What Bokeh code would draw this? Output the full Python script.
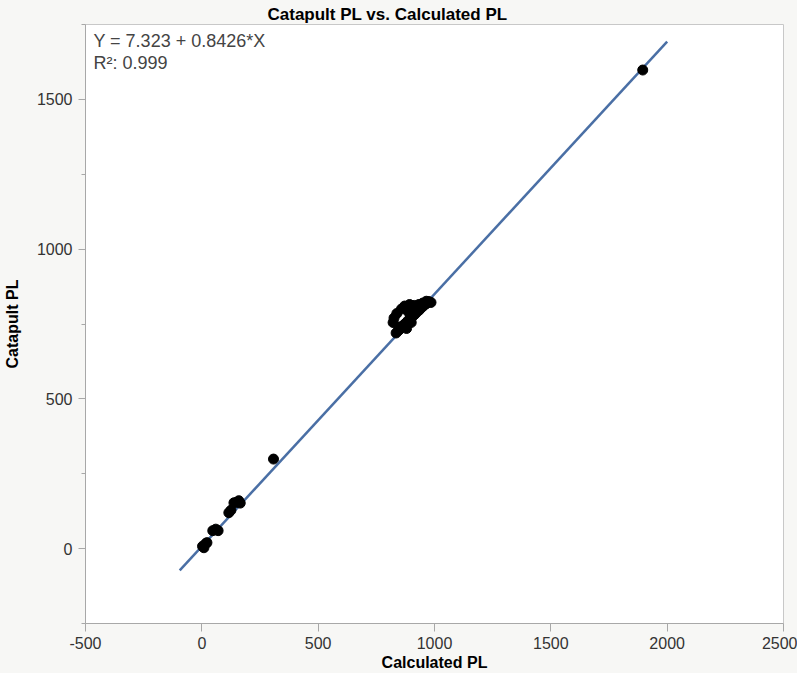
from bokeh.plotting import figure
from bokeh.models import Label, SingleIntervalTicker, Range1d, CustomJSTickFormatter
from bokeh.embed import file_html
from bokeh.resources import INLINE

# ---- data ----
calculated_pl = [3, 9, 17, 22, 47, 60, 70, 116, 125, 138, 150, 159, 165,
                 835, 845, 855, 865, 875, 885, 895, 905, 915, 925, 935, 945, 955, 965, 975, 985,
                 822, 826, 838, 858, 872, 893, 913, 933, 950, 965, 848, 888, 908, 880, 900,
                 308, 1895]
catapult_pl = [8, 3, 17, 20, 60, 65, 60, 120, 128, 153, 155, 160, 152,
               720, 728, 735, 745, 752, 760, 768, 775, 782, 790, 797, 805, 812, 818, 825, 822,
               755, 770, 785, 800, 810, 815, 812, 815, 820, 826, 740, 790, 800, 735, 755,
               299, 1598]

intercept = 7.323
slope = 0.8426
r_squared = 0.999
fit_x = [-95, 2000]
fit_y = [intercept + slope * v for v in fit_x]

x_ticks_interval = 500
y_ticks_interval = 500

FONT = "Liberation Sans"

p = figure(width=797, height=673, output_backend="svg", toolbar_location=None,
           x_range=Range1d(-500, 2500), y_range=Range1d(-250, 1750),
           min_border_left=84, min_border_right=14, min_border_top=24, min_border_bottom=49,
           title="Catapult PL vs. Calculated PL")

p.background_fill_color = "white"
p.border_fill_color = "#f7f7f5"
p.outline_line_color = "#c8c8c8"
p.xgrid.visible = False
p.ygrid.visible = False

p.title.text_font = FONT
p.title.text_font_size = "17px"
p.title.text_font_style = "bold"
p.title.text_color = "black"
p.title.align = "left"
p.title.offset = 182
p.title.standoff = 2

p.line(fit_x, fit_y, line_color="#4a6fa5", line_width=2.5)
p.scatter(calculated_pl, catapult_pl, size=10, color="black")

p.xaxis.ticker = SingleIntervalTicker(interval=x_ticks_interval, num_minor_ticks=0)
p.yaxis.ticker = SingleIntervalTicker(interval=y_ticks_interval, num_minor_ticks=2)

plain = CustomJSTickFormatter(code="return String(Math.round(tick));")

for ax in (p.xaxis[0], p.yaxis[0]):
    ax.formatter = plain
    ax.axis_line_color = "#a8a8a8"
    ax.major_tick_line_color = "#a8a8a8"
    ax.minor_tick_line_color = "#a8a8a8"
    ax.major_tick_in = 0
    ax.minor_tick_in = 0
    ax.major_label_text_font = FONT
    ax.major_label_text_font_size = "16px"
    ax.major_label_text_color = "#333333"
    ax.axis_label_text_font = FONT
    ax.axis_label_text_font_size = "16px"
    ax.axis_label_text_font_style = "bold"
    ax.axis_label_text_color = "black"

p.xaxis.major_tick_out = 8
p.yaxis.major_tick_out = 7
p.yaxis.minor_tick_out = 4
p.xaxis.major_label_standoff = 5
p.yaxis.major_label_standoff = 6
p.xaxis.axis_label = "Calculated PL"
p.yaxis.axis_label = "Catapult PL"
p.xaxis.axis_label_standoff = 2
p.yaxis.axis_label_standoff = 13

p.add_layout(Label(x=-466, y=1727, text="Y = %.3f + %.4f*X" % (intercept, slope),
                   text_font=FONT, text_font_size="18px", text_color="#444444",
                   text_baseline="top"))
p.add_layout(Label(x=-466, y=1655, text="R²: %.3f" % r_squared,
                   text_font=FONT, text_font_size="18px", text_color="#444444",
                   text_baseline="top"))

html = file_html(p, INLINE)
html = html.replace("<head>", "<head><style>html,body{margin:0;padding:0;background:#f7f7f5;overflow:hidden}</style>", 1)
open("out.html", "w").write(html)
